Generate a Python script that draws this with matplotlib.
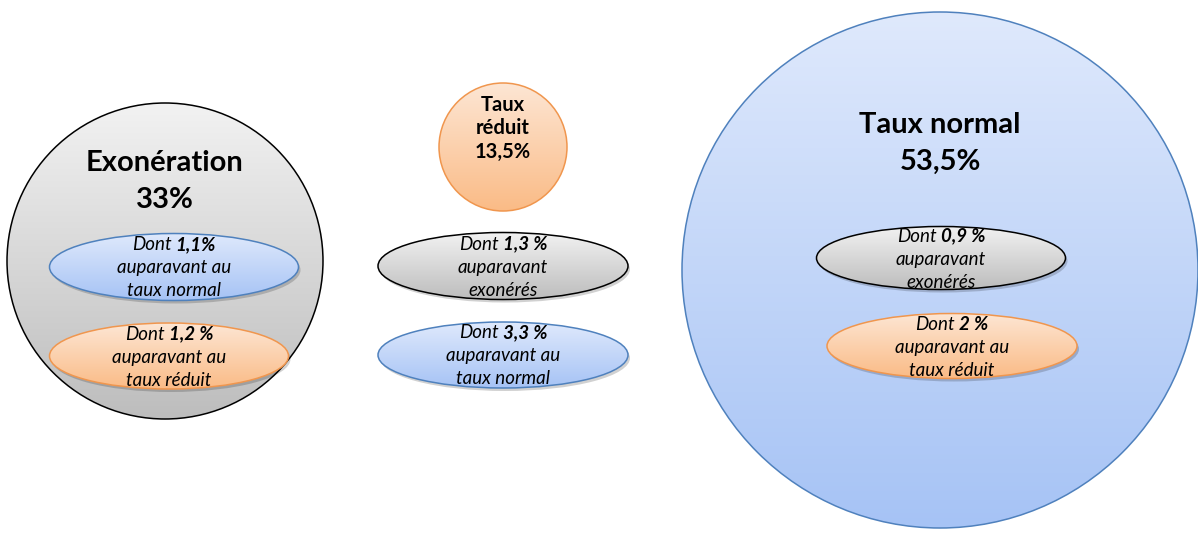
import numpy as np
import matplotlib
matplotlib.use("Agg")
import matplotlib.pyplot as plt
import matplotlib.patches as ptch
from matplotlib.colors import LinearSegmentedColormap

plt.rcParams['font.family'] = ['Lato', 'DejaVu Sans']

# donnees
categories = ["Exonération", "Taux\nréduit", "Taux normal"]
parts = ["33%", "13,5%", "53,5%"]
# sous-parts (valeur en gras, suite du texte)
sous_parts = [["1,1%", "1,2 %"], ["1,3 %", "3,3 %"], ["0,9 %", "2 %"]]
sous_textes = [["auparavant au\ntaux normal", "auparavant au\ntaux réduit"],
               ["auparavant\nexonérés", "auparavant au\ntaux normal"],
               ["auparavant\nexonérés", "auparavant au\ntaux réduit"]]
sous_types = [["normal", "reduit"], ["exo", "normal"], ["exo", "reduit"]]

# styles (haut du degrade, bas du degrade, bord)
styles = {"exo": ("#f2f2f2", "#bdbdbd", "black"),
          "reduit": ("#fde6d4", "#fabb86", "#f0964e"),
          "normal": ("#dfe9fc", "#a6c3f5", "#4f81bd")}
types_cercles = ["exo", "reduit", "normal"]

# mise en page (pixels, y vers le bas)
cercles = [(165, 261, 158), (503, 147, 64), (940, 270, 258)]
titres_y = [(163, 200), (105, 128, 152), (125, 162)]
ellipses = [[(174, 267, 249, 67), (169, 356, 239, 66)],
            [(503, 266, 250, 67), (503, 355, 250, 66)],
            [(941, 258, 249, 63), (952, 346, 250, 65)]]
TAILLE = 13.5

W, H = 1198, 539
fig = plt.figure(figsize=(W / 100, H / 100), dpi=100)
ax = fig.add_axes([0, 0, 1, 1])
ax.set_axis_off()


def degrade(patch, x0, y0, x1, y1, style, z):
    haut, bas, bord = styles[style]
    cmap = LinearSegmentedColormap.from_list("d", [haut, bas])
    grad = np.linspace(0, 1, 256).reshape(-1, 1)
    im = ax.imshow(grad, cmap=cmap, extent=(x0, x1, y1, y0),
                   origin="upper", aspect="auto", zorder=z,
                   interpolation="bilinear")
    im.set_clip_path(patch)


def forme(cx, cy, w, h, style, z, ombre=False):
    bord = styles[style][2]
    if ombre:
        sh = ptch.Ellipse((cx + 2, cy + 3), w, h, facecolor="#000000",
                          alpha=0.18, edgecolor="none", zorder=z - 0.5)
        ax.add_patch(sh)
    fond = ptch.Ellipse((cx, cy), w, h, facecolor="none", edgecolor="none",
                        zorder=z)
    ax.add_patch(fond)
    degrade(fond, cx - w / 2, cy - h / 2, cx + w / 2, cy + h / 2, style, z)
    contour = ptch.Ellipse((cx, cy), w, h, facecolor="none", edgecolor=bord,
                           linewidth=1.1, zorder=z + 0.2)
    ax.add_patch(contour)


renderer = fig.canvas.get_renderer()


def ligne_mixte(cx, y, debut, gras, taille, z, espace=4):
    t1 = ax.text(0, y, debut, fontsize=taille, style="italic",
                 ha="left", va="center", zorder=z)
    t2 = ax.text(0, y, gras, fontsize=taille, style="italic",
                 fontweight="bold", ha="left", va="center", zorder=z)
    w1 = t1.get_window_extent(renderer).width
    w2 = t2.get_window_extent(renderer).width
    x0 = cx - (w1 + espace + w2) / 2
    t1.set_x(x0)
    t2.set_x(x0 + w1 + espace)


for i, (cx, cy, r) in enumerate(cercles):
    forme(cx, cy, 2 * r, 2 * r, types_cercles[i], 1)
    lignes = (categories[i] + "\n" + parts[i]).split("\n")
    taille_titre = 14.5 if i == 1 else 21
    for texte, y in zip(lignes, titres_y[i]):
        ax.text(cx, y, texte, fontsize=taille_titre, fontweight="bold",
                ha="center", va="center", zorder=5)
    for j, (ex, ey, ew, eh) in enumerate(ellipses[i]):
        forme(ex, ey, ew, eh, sous_types[i][j], 3, ombre=True)
        ligne_mixte(ex, ey - 22, "Dont", sous_parts[i][j], TAILLE, 6)
        for k, texte in enumerate(sous_textes[i][j].split("\n")):
            ax.text(ex, ey + 1 + 23 * k, texte, fontsize=TAILLE,
                    style="italic", ha="center", va="center", zorder=6)

ax.set_xlim(0, W)
ax.set_ylim(H, 0)

fig.savefig("out.png", dpi=100, facecolor="white")
